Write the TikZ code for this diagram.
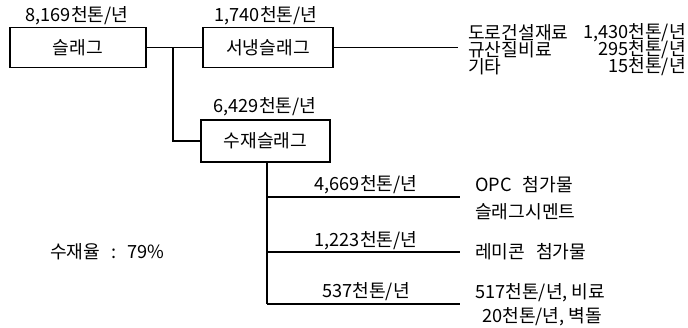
\documentclass[tikz,border=0pt]{standalone}
\usepackage{fontspec}
\setmainfont{Noto Sans CJK KR}
\usetikzlibrary{calc}
\tikzset{
  box/.style={draw,line width=1.2pt,minimum height=1.2cm,inner sep=0pt,
    font=\fontsize{15.5}{17}\selectfont},
  txt/.style={inner sep=0pt,font=\fontsize{15.5}{17}\selectfont},
  flow/.style={line width=1.1pt}
}
\begin{document}
\begin{tikzpicture}[x=0.03cm,y=-0.03cm]
    \useasboundingbox (0,0) rectangle (688,327);
    \node [box,minimum width=4.08cm] (slag) at (78,47.5) {슬래그};
    \node [box,minimum width=3.9cm] (slow) at (268,47.5) {서냉슬래그};
    \node [box,minimum width=3.87cm,minimum height=1.26cm] (water) at (265.5,141) {수재슬래그};
    \node [txt] (tslag) at (77,16) {8,169천톤/년};
    \node [txt] (tslow) at (266,16) {1,740천톤/년};
    \node [txt] (twater) at (265,107) {6,429천톤/년};
    \coordinate (J0) at (173,47.5);
    \coordinate (E0) at (458,47.5);
    \coordinate (J1) at (267,197);
    \coordinate (J2) at (267,252);
    \coordinate (J3) at (267,304);
    \coordinate (E1) at (460,197);
    \coordinate (E2) at (460,252);
    \coordinate (E3) at (460,304);
      \draw [flow] (slag) -- (slow);
      \draw [flow] (J0) |- (water);
      \draw [flow] (slow) -- (E0);
      \draw [flow] (water.south -| J1) -- (J3);
      \draw [flow] (J1) -- (E1);
      \draw [flow] (J2) -- (E2);
      \draw [flow] (J3) -- (E3);
      \node [txt,anchor=west] (u1) at (468,33) {도로건설재료};
      \node [txt,anchor=west] (u2) at (468,50) {규산질비료};
      \node [txt,anchor=west] (u3) at (468,67) {기타};
      \node [txt,anchor=east] (v1) at (686,33) {1,430천톤/년};
      \node [txt,anchor=east] (v2) at (686,50) {295천톤/년};
      \node [txt,anchor=east] (v3) at (686,67) {15천톤/년};
      \node [txt] (f1) at (366,185) {4,669천톤/년};
      \node [txt] (f2) at (366,241) {1,223천톤/년};
      \node [txt] (f3) at (366,292) {537천톤/년};
      \node [txt,anchor=west] (w1) at (475,185) {OPC\hspace{0.6em}첨가물};
      \node [txt,anchor=west] (w2) at (475,212) {슬래그시멘트};
      \node [txt,anchor=west] (w3) at (475,252) {레미콘\hspace{0.6em}첨가물};
      \node [txt,anchor=west] (w4) at (475,293) {517천톤/년, 비료};
      \node [txt,anchor=west] (w5) at (482,317) {20천톤/년, 벽돌};
      \node [txt,anchor=west] (rate) at (50,252) {수재율\hspace{0.6em}:\hspace{0.6em}79\%};
  \end{tikzpicture}
\end{document}
